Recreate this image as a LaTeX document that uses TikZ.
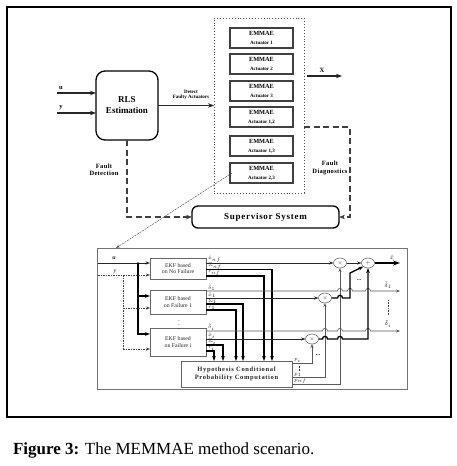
\documentclass[tikz,border=0pt]{standalone}
\usepackage{fontspec}
\setmainfont{Liberation Serif}
\usetikzlibrary{arrows.meta,calc,shapes.geometric}
\newcommand{\fsz}[1]{\fontsize{#1}{#1}\selectfont}
\begin{document}
\begin{tikzpicture}[x=1pt,y=-1pt,
  every node/.style={inner sep=0pt, outer sep=0pt},
  outerframe/.style={draw=black, line width=1.6pt},
  emm/.style={draw=black!75, line width=1.1pt, fill=white, minimum width=63pt, minimum height=20pt, align=center, font=\bfseries\fontsize{6.3}{6.3}\selectfont},
  rbox/.style={draw=black, line width=1.3pt, align=center, font=\bfseries},
  dotframe/.style={draw=black!70, dotted, line width=0.9pt, minimum width=90pt, minimum height=175pt},
  toparr/.style={draw=black!85, line width=1.3pt, -{Stealth[length=6pt,width=4.5pt]}},
  dsh/.style={draw=black!75, line width=1.6pt, dash pattern=on 6pt off 3.5pt},
  dsharrow/.style={dsh, -{Stealth[length=6pt,width=4.5pt]}},
  tlab/.style={font=\bfseries\fsz{5}, align=center},
  flab/.style={font=\bfseries\fsz{6.5}\addfontfeature{LetterSpace=5}, align=center},
  iolab/.style={font=\bfseries\fsz{6.5}},
  zoomline/.style={draw=black!65, line width=0.5pt, dash pattern=on 2pt off 1pt, -{Stealth[length=4pt,width=3pt]}},
  subframe/.style={draw=black!55, line width=0.8pt, minimum width=310pt, minimum height=141pt},
  ekf/.style={draw=black!60, line width=0.7pt, align=center, font=\fsz{5.8}, text=black!85, minimum width=56pt},
  hypbox/.style={draw=black!60, line width=0.7pt, align=center, font=\bfseries\fsz{6.5}\addfontfeature{LetterSpace=10}, text=black!85, minimum width=111pt, minimum height=26pt},
  mult/.style={ellipse, draw=black!60, line width=0.6pt, minimum width=13pt, minimum height=10pt, font=\fsz{5.5}, text=black!80},
  ml/.style={font=\fsz{4}, text=black!85, anchor=south west, inner sep=0pt},
  thin/.style={draw=black!65, line width=0.6pt},
  thinarr/.style={thin, -{Stealth[length=4pt,width=3pt]}},
  med/.style={draw=black!85, line width=0.9pt},
  medarr/.style={med, -{Stealth[length=4.5pt,width=3.2pt]}},
  thk/.style={draw=black, line width=1.3pt},
  thkarr/.style={thk, -{Stealth[length=5pt,width=3.6pt]}},
  ydsh/.style={draw=black!75, line width=0.6pt, dash pattern=on 1.5pt off 1pt},
  ydsharr/.style={ydsh, -{Stealth[length=4pt,width=3pt]}}
]
\useasboundingbox (0,0) rectangle (457,466);
\draw[outerframe] (7,7) rectangle (451,417);

% ---------- upper diagram ----------
\node[rbox, rounded corners=9pt, minimum width=62pt, minimum height=69pt, font=\bfseries\fsz{9}] (rls) at (127,105.5) {RLS\\[2pt]Estimation};
\node[dotframe] (dotbox) at (259,105.5) {};
\foreach \n/\yy/\t in {e1/38/Actuator 1, e2/64/Actuator 2, e3/91/Actuator 3, e4/117/{Actuator 1,2}, e5/146/{Actuator 1,3}, e6/173/{Actuator 2,3}}{
  \node[emm] (\n) at (261.5,\yy) {EMMAE\\[2.8pt]{\fontsize{5}{5}\selectfont\t}};
}
\node[rbox, rounded corners=6pt, minimum width=147pt, minimum height=22pt, font=\bfseries\fsz{9}\addfontfeature{LetterSpace=8}] (sup) at (265.5,217) {Supervisor System};

\coordinate (uin) at (57,93);
\coordinate (yin) at (57,113);
\draw[toparr] (uin) -- (uin -| rls.west);
\draw[toparr] (yin) -- (yin -| rls.west);
\node[iolab] (ul) at (61,88) {u};
\node[iolab] (yl) at (61,107.5) {y};

\draw[toparr] (rls.east) -- (dotbox.west);
\node[tlab] (detl) at (191,95) {Detect\\[0.5pt]Faulty Actuators};

\coordinate (xs) at (307,76);
\coordinate (xe) at (342,76);
\draw[toparr] (xs) -- (xe);
\node[iolab] (xl) at (322,70.5) {X};

\coordinate (fd1) at (350,127);
\draw[dsharrow] (dotbox.east |- fd1) -- (fd1) |- (sup.east);
\node[flab] (fdl) at (330,168) {Fault\\[1pt]Diagnostics};

\coordinate (fdet) at (127,217);
\draw[dsharrow] (rls.south) -- (fdet) -- (sup.west);
\node[flab] (fdetl) at (104,170) {Fault\\[1pt]Detection};

\coordinate (ztip) at (116,248);
\draw[zoomline] ($(e6.west)+(2,0)$) -- (ztip);

% ---------- lower diagram ----------
\node[subframe] (sub) at (252,318.5) {};
\node[ekf, minimum height=21pt] (b0) at (178,268.5) {EKF based\\[0.5pt]on No Failure};
\node[ekf, minimum height=24pt] (b1) at (178,302) {EKF based\\[0.5pt]on Failure 1};
\node[ekf, minimum height=28pt] (bi) at (178,342) {EKF based\\[0.5pt]on Failure i};
\node[font=\fsz{7}, text=black!80] (vd1) at (179,322) {$\vdots$};
\node[hypbox] (hyp) at (236.5,374) {Hypothesis Conditional\\[1pt]Probability Computation};

\node[mult] (m1) at (340,263) {$\times$};
\node[mult] (m2) at (325,298) {$\times$};
\node[mult] (m3) at (312,339) {$\times$};
\node[mult] (sum) at (368,263) {$+$};

% inputs
\coordinate (uin2) at (98,263);
\coordinate (ubr) at (138,263);
\node[font=\bfseries\itshape\fsz{6}, text=black!85] (ul2) at (114,258) {u};
\draw[medarr] (uin2) -- (uin2 -| b0.west);
\fill[black] (ubr) circle (1);
\draw[thkarr] (ubr) |- (bi.west |- 0,334);
\draw[thkarr] (ubr |- 0,296) -- (b1.west |- 0,296);

\coordinate (yin2) at (98,275);
\coordinate (ybr) at (123,275);
\node[font=\itshape\fsz{6}, text=black!85] (yl2) at (115,271.5) {y};
\draw[ydsharr] (yin2) -- (yin2 -| b0.west);
\draw[ydsh] (ybr) -- (ybr |- 0,349);
\draw[ydsharr] (ybr |- 0,308) -- (b1.west |- 0,308);
\draw[ydsharr] (ybr |- 0,349) -- (bi.west |- 0,349);

% outputs of no-failure filter
\draw[medarr] (b0.east |- m1.west) -- (m1.west);
\draw[thkarr] (b0.east |- 0,269.5) -| (hyp.north -| 272,0);
\draw[thkarr] (b0.east |- 0,276) -| (hyp.north -| 264,0);
\node[ml] (lxnf) at (208,262.6) {$\hat{x}_{nf}$};
\node[ml] (lsnf) at (208,269.1) {$\Sigma_{nf}$};
\node[ml] (lrnf) at (208,275.6) {$r_{nf}$};

% outputs of filter 1
\coordinate (d1e) at (400,291);
\draw[thinarr] (b1.east |- d1e) -- (337.5,291) .. controls (337.5,287.5) and (342.5,287.5) .. (342.5,291)
  -- (347.5,291) .. controls (347.5,287.5) and (352.5,287.5) .. (352.5,291)
  -- (365.5,291) .. controls (365.5,287.5) and (370.5,287.5) .. (370.5,291) -- (d1e);
\draw[medarr] (b1.east |- m2.west) -- (m2.west);
\draw[thkarr] (b1.east |- 0,304) -| (hyp.north -| 243,0);
\draw[thkarr] (b1.east |- 0,310) -| (hyp.north -| 236,0);
\node[ml] (ld1) at (208,290.6) {$\hat{\delta}_1$};
\node[ml] (lx1) at (208,297.6) {$\hat{x}_1$};
\node[ml] (ls1) at (208,303.6) {$\Sigma_1$};
\node[ml] (lr1) at (208,309.6) {$r_1$};

% outputs of filter i
\coordinate (die) at (400,331);
\draw[thinarr] (bi.east |- die) -- (322.5,331) .. controls (322.5,327.5) and (327.5,327.5) .. (327.5,331)
  -- (337.5,331) .. controls (337.5,327.5) and (342.5,327.5) .. (342.5,331)
  -- (365.5,331) .. controls (365.5,327.5) and (370.5,327.5) .. (370.5,331) -- (die);
\draw[medarr] (bi.east |- m3.west) -- (m3.west);
\draw[thkarr] (bi.east |- 0,345) -| (hyp.north -| 223,0);
\draw[thkarr] (bi.east |- 0,351) -| (hyp.north -| 214,0);
\node[ml] (ldi) at (208,330.6) {$\hat{\delta}_i$};
\node[ml] (lxi) at (208,338.6) {$\hat{x}_i$};
\node[ml] (lsi) at (208,344.6) {$\Sigma_i$};
\node[ml] (lri) at (208,350.6) {$r_i$};

% probabilities
\draw[thinarr] (hyp.east |- 0,363) -| (m3.south);
\draw[thinarr] (hyp.east |- 0,377) -| (m2.south);
\draw[thinarr] (hyp.east |- 0,384) -| (m1.south);
\node[ml, font=\fsz{5}] (lpi) at (294,362.6) {$p_i$};
\node[ml, font=\fsz{5}] (lp1) at (294,376.6) {$p_1$};
\node[ml, font=\fsz{5}] (lpnf) at (294,383.8) {$p_{nf}$};
\coordinate (pd1) at (299,365.5);
\coordinate (pd2) at (299,371.5);
\draw[draw=black!80, line width=1pt, dash pattern=on 0.8pt off 0.8pt] (pd1) -- (pd2);
\node[font=\bfseries\fsz{6}, text=black!85] (dots1) at (318,355) {...};
\node[font=\bfseries\fsz{6}, text=black!85] (dots2) at (359,280) {...};

% combination
\draw[medarr] (m1.east) -- (sum.west);
\draw[thkarr] (m2.east) -- (337.5,298) .. controls (337.5,294.5) and (342.5,294.5) .. (342.5,298)
  -- (350,298) -- (350,273) -- (sum.south west);
\draw[thkarr] (m3.east) -- (322.5,339) .. controls (322.5,335.5) and (327.5,335.5) .. (327.5,339)
  -- (337.5,339) .. controls (337.5,335.5) and (342.5,335.5) .. (342.5,339)
  -- (368,339) -- (sum.south);
\coordinate (xout) at (400,263);
\draw[thk, -{Stealth[length=7pt,width=5pt]}] (sum.east) -- (xout);
\node[font=\fsz{6}, text=black!85] (lx) at (392,257) {$\hat{x}$};
\node[font=\fsz{6}, text=black!85] (ld1o) at (388,285) {$\hat{\delta}_1$};
\node[font=\fsz{6}, text=black!85] (ldio) at (388,323.5) {$\hat{\delta}_i$};
\coordinate (rd1) at (388,300);
\coordinate (rd2) at (388,315);
\draw[draw=black!75, line width=0.8pt, dash pattern=on 0.8pt off 0.8pt] (rd1) -- (rd2);

% ---------- caption ----------
\node[anchor=base west, font=\fsz{17}] (cap) at (13,454) {\textbf{Figure 3:} The MEMMAE method scenario.};
\end{tikzpicture}
\end{document}
